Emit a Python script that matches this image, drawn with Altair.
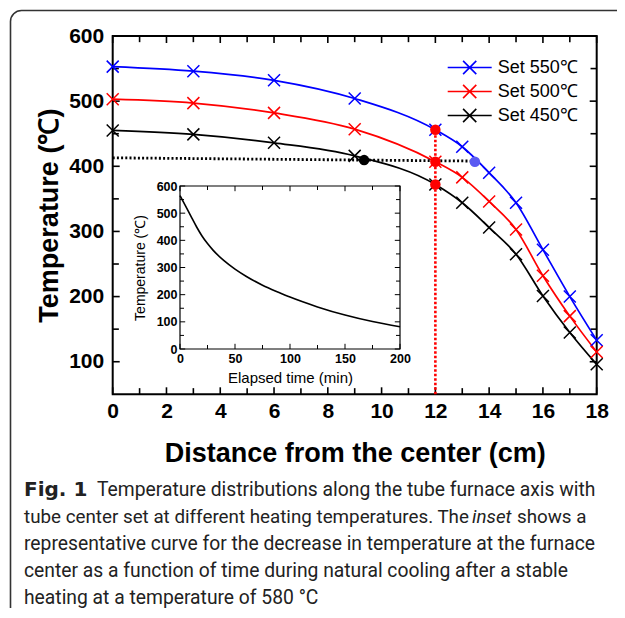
import altair as alt
import pandas as pd

# ---------------- data ----------------
distance_cm = [0, 3, 6, 9, 12, 13, 14, 15, 16, 17, 18]
temp_set550 = [553, 546, 532, 504, 456, 430, 390, 344, 272, 200, 133]
temp_set500 = [503, 497, 482, 457, 407, 383, 346, 303, 232, 170, 115]
temp_set450 = [455, 449, 436, 416, 372, 344, 306, 265, 201, 145, 96]
series_names = ["Set 550℃", "Set 500℃", "Set 450℃"]
series_colors = ["#0000ff", "#ff0000", "#000000"]

marked_distance = [12, 12, 12]
marked_temp = [456, 407, 372]
guide_h_distance = [0, 13.47]
guide_h_temp = [413, 408]
guide_v_distance = [12, 12]
guide_v_temp = [50, 456]
black_dot_distance = [9.35]
black_dot_temp = [409.5]
blue_dot_distance = [13.47]
blue_dot_temp = [407]

elapsed_min = [0, 5, 10, 15, 20, 25, 30, 40, 50, 60, 75, 90, 100, 125, 150, 175, 200]
inset_temp = [565, 527, 488, 450, 416, 388, 364, 325, 294, 268, 235, 208, 191, 155, 125, 101, 82]

x_domain = [0, 18]
y_domain = [50, 600]
ix_domain = [0, 200]
iy_domain = [0, 600]
x_major = list(range(0, 19, 2))
x_minor = list(range(1, 19, 2))
y_major = list(range(100, 601, 100))
y_minor = list(range(150, 600, 100))
ix_major = list(range(0, 201, 50))
ix_minor = list(range(25, 200, 50))
iy_major = list(range(0, 601, 100))
iy_minor = list(range(50, 600, 100))

caption_fig = "Fig. 1"
caption_l1 = "Temperature distributions along the tube furnace axis with"
caption_l2a = "tube center set at different heating temperatures. The"
caption_l2b = "inset"
caption_l2c = "shows a"
caption_l3 = "representative curve for the decrease in temperature at the furnace"
caption_l4 = "center as a function of time during natural cooling after a stable"
caption_l5 = "heating at a temperature of 580 °C"

# ---------------- layout ----------------
W, H = 484, 358.3
PL, PT = 104.7, 28
TOTAL_W, TOTAL_H = 609, 600
PR = TOTAL_W - PL - W
PB = TOTAL_H - PT - H
IX0, IX1 = 67.3, 287.3
IY0, IY1 = 313, 150
FONT = "Liberation Sans"

main_df = pd.DataFrame({
    "distance": distance_cm * 3,
    "temp": temp_set550 + temp_set500 + temp_set450,
    "series": [n for n in series_names for _ in distance_cm],
})
marked_df = pd.DataFrame({"distance": marked_distance, "temp": marked_temp})
hline_df = pd.DataFrame({"distance": guide_h_distance, "temp": guide_h_temp})
vline_df = pd.DataFrame({"distance": guide_v_distance, "temp": guide_v_temp})
bdot_df = pd.DataFrame({"distance": black_dot_distance, "temp": black_dot_temp})
udot_df = pd.DataFrame({"distance": blue_dot_distance, "temp": blue_dot_temp})
inset_df = pd.DataFrame({"t": elapsed_min, "temp": inset_temp})
one = pd.DataFrame({"k": [0]})


def tick_table(xcol, ycol, xd, yd, xmaj, xmin, ymaj, ymin, kmaj, kmin):
    rows = []
    for v in xmaj:
        rows += [(v, yd[0], "bottom", kmaj), (v, yd[1], "top", kmaj)]
    for v in xmin:
        rows += [(v, yd[0], "bottom", kmin), (v, yd[1], "top", kmin)]
    for v in ymaj:
        rows += [(xd[0], v, "left", kmaj), (xd[1], v, "right", kmaj)]
    for v in ymin:
        rows += [(xd[0], v, "left", kmin), (xd[1], v, "right", kmin)]
    return pd.DataFrame(rows, columns=[xcol, ycol, "side", "kind"])


main_ticks_df = tick_table("distance", "temp", x_domain, y_domain,
                           x_major, x_minor, y_major, y_minor, "major", "minor")
inset_ticks_df = tick_table("t", "temp", ix_domain, iy_domain,
                            ix_major, ix_minor, iy_major, iy_minor, "imajor", "iminor")
main_box_df = pd.DataFrame({"x0": [x_domain[0]], "x1": [x_domain[1]],
                            "y0": [y_domain[0]], "y1": [y_domain[1]]})
inset_box_df = pd.DataFrame({"x0": [ix_domain[0]], "x1": [ix_domain[1]],
                             "y0": [iy_domain[0]], "y1": [iy_domain[1]]})


def sx():
    return alt.Scale(domain=x_domain, nice=False, zero=False)


def sy():
    return alt.Scale(domain=y_domain, nice=False, zero=False)


def ix():
    return alt.Scale(domain=ix_domain, range=[IX0, IX1], nice=False, zero=False)


def iy():
    return alt.Scale(domain=iy_domain, range=[IY0, IY1], nice=False, zero=False)


# label axes
ax_x_lab = alt.Axis(
    orient="bottom", values=x_major, ticks=False, tickSize=0,
    labelFont=FONT, labelFontSize=21, labelFontWeight="bold", labelColor="black",
    labelPadding=6, labelFlush=False, labelOverlap=False,
    domain=False, grid=False,
    title="Distance from the center (cm)", titleFont=FONT, titleFontSize=27,
    titleFontWeight="bold", titleColor="black", titlePadding=19,
)
ax_y_lab = alt.Axis(
    orient="left", values=y_major, ticks=False, tickSize=0,
    labelFont=FONT, labelFontSize=21, labelFontWeight="bold", labelColor="black",
    labelPadding=9, labelFlush=False, labelOverlap=False,
    domain=False, grid=False,
    title="Temperature (℃)", titleFont=FONT, titleFontSize=27,
    titleFontWeight="bold", titleColor="black", titlePadding=5,
)
ax_ix_lab = alt.Axis(
    orient="bottom", offset=-(H - IY0), values=ix_major, ticks=False, tickSize=0,
    labelFont=FONT, labelFontSize=12.5, labelFontWeight="bold", labelColor="black",
    labelPadding=3, labelFlush=False, labelOverlap=False,
    domain=False, grid=False,
    title="Elapsed time (min)", titleFont=FONT, titleFontSize=15,
    titleFontWeight="normal", titleColor="black", titlePadding=6,
)
ax_iy_lab = alt.Axis(
    orient="left", offset=-IX0, values=iy_major, ticks=False, tickSize=0,
    labelFont=FONT, labelFontSize=12.5, labelFontWeight="bold", labelColor="black",
    labelPadding=3, labelFlush=False, labelOverlap=False,
    domain=False, grid=False,
    title="Temperature (℃)", titleFont=FONT, titleFontSize=14,
    titleFontWeight="normal", titleColor="black", titlePadding=9,
)

color_scale = alt.Scale(domain=series_names, range=series_colors)
side_scale = alt.Scale(
    domain=["bottom", "top", "left", "right"],
    range=["M0,0L0,-1", "M0,0L0,1", "M0,0L1,0", "M0,0L-1,0"],
)
kind_scale = alt.Scale(domain=["major", "minor", "imajor", "iminor"],
                       range=[196, 64, 64, 25])
legend = alt.Legend(
    orient="none", legendX=345, legendY=19.5, title=None,
    symbolType="M-2,0L2,0M-0.6,-0.6L0.6,0.6M-0.6,0.6L0.6,-0.6",
    symbolSize=484, symbolStrokeWidth=1.6,
    labelFont=FONT, labelFontSize=18, labelColor="black", labelOffset=16,
    rowPadding=2, padding=0,
)

# outer rounded frame (only left and top edges fall inside the picture)
frame = alt.Chart(one).mark_point(
    shape="M0,640L0,11A11,11,0,0,1,11,0L700,0",
    size=4, filled=False, stroke="#333333", strokeWidth=1.6, opacity=1,
).encode(
    x=alt.value(10.5 - 8 - PL),
    y=alt.value(10.5 - 8 - PT),
)

main_box = alt.Chart(main_box_df).mark_rect(
    fillOpacity=0, stroke="black", strokeWidth=2
).encode(
    x=alt.X("x0:Q", scale=sx(), axis=None), x2="x1:Q",
    y=alt.Y("y0:Q", scale=sy(), axis=None), y2="y1:Q",
)
main_ticks = alt.Chart(main_ticks_df).mark_point(
    filled=False, stroke="black", strokeWidth=1.6, opacity=1
).encode(
    x=alt.X("distance:Q", scale=sx(), axis=None),
    y=alt.Y("temp:Q", scale=sy(), axis=None),
    shape=alt.Shape("side:N", scale=side_scale, legend=None),
    size=alt.Size("kind:N", scale=kind_scale, legend=None),
)

lines = alt.Chart(main_df).mark_line(interpolate="monotone", strokeWidth=1.7).encode(
    x=alt.X("distance:Q", scale=sx(), axis=ax_x_lab),
    y=alt.Y("temp:Q", scale=sy(), axis=ax_y_lab),
    color=alt.Color("series:N", scale=color_scale, legend=legend),
    detail="series:N",
)
markers = alt.Chart(main_df).mark_point(
    shape="M-1,-1L1,1M-1,1L1,-1", size=144, strokeWidth=1.5, filled=False, opacity=1
).encode(
    x=alt.X("distance:Q", scale=sx(), axis=None),
    y=alt.Y("temp:Q", scale=sy(), axis=None),
    color=alt.Color("series:N", scale=color_scale, legend=None),
)
hline = alt.Chart(hline_df).mark_line(
    color="black", strokeWidth=2.8, strokeDash=[2, 2.2]
).encode(
    x=alt.X("distance:Q", scale=sx(), axis=None),
    y=alt.Y("temp:Q", scale=sy(), axis=None),
)
vline = alt.Chart(vline_df).mark_line(
    color="#ff0000", strokeWidth=2.6, strokeDash=[2.5, 2]
).encode(
    x=alt.X("distance:Q", scale=sx(), axis=None),
    y=alt.Y("temp:Q", scale=sy(), axis=None),
)


def dot(df, colour):
    return alt.Chart(df).mark_point(
        shape="circle", size=110, filled=True, color=colour, opacity=1
    ).encode(
        x=alt.X("distance:Q", scale=sx(), axis=None),
        y=alt.Y("temp:Q", scale=sy(), axis=None),
    )


reddots = dot(marked_df, "#ff0000")
bdot = dot(bdot_df, "black")
udot = dot(udot_df, "#5a5af2")

inset_box = alt.Chart(inset_box_df).mark_rect(
    fillOpacity=0, stroke="black", strokeWidth=1.2
).encode(
    x=alt.X("x0:Q", scale=ix(), axis=None), x2="x1:Q",
    y=alt.Y("y0:Q", scale=iy(), axis=None), y2="y1:Q",
)
inset_ticks = alt.Chart(inset_ticks_df).mark_point(
    filled=False, stroke="black", strokeWidth=1, opacity=1
).encode(
    x=alt.X("t:Q", scale=ix(), axis=None),
    y=alt.Y("temp:Q", scale=iy(), axis=None),
    shape=alt.Shape("side:N", scale=side_scale, legend=None),
    size=alt.Size("kind:N", scale=kind_scale, legend=None),
)
inset_curve = alt.Chart(inset_df).mark_line(
    interpolate="monotone", color="black", strokeWidth=1.6
).encode(
    x=alt.X("t:Q", scale=ix(), axis=ax_ix_lab),
    y=alt.Y("temp:Q", scale=iy(), axis=ax_iy_lab),
)

CAP_FONT = "Roboto"
CAP_COLOR = "#222222"
BASE0 = 496 - 8 - PT
STEP = 26.9


def cap(text, xpage, line, size=19.3, weight="normal", style="normal", font=CAP_FONT):
    return alt.Chart(pd.DataFrame({"txt": [text]})).mark_text(
        align="left", baseline="alphabetic", font=font, fontSize=size,
        fontWeight=weight, fontStyle=style, color=CAP_COLOR,
    ).encode(
        text="txt:N",
        x=alt.value(xpage - 8 - PL),
        y=alt.value(BASE0 + STEP * line),
    )


captions = [
    cap(caption_fig, 24, 0, size=20, weight="bold", font="DejaVu Sans"),
    cap(caption_l1, 97, 0),
    cap(caption_l2a, 24, 1, size=18.8),
    cap(caption_l2b, 472, 1, size=18.8, style="italic"),
    cap(caption_l2c, 517, 1, size=18.8),
    cap(caption_l3, 24, 2),
    cap(caption_l4, 24, 3),
    cap(caption_l5, 24, 4),
]

chart = alt.layer(
    frame, main_box, main_ticks, lines, markers, hline, vline, reddots, bdot, udot,
    inset_box, inset_ticks, inset_curve, *captions,
).resolve_scale(
    x="independent", y="independent"
).properties(
    width=W, height=H,
    autosize=alt.AutoSizeParams(type="none"),
    padding={"left": PL, "top": PT, "right": PR, "bottom": PB},
    background="white",
).configure_view(stroke=None)

chart.save("out.html", embed_options={"renderer": "svg", "actions": False})
